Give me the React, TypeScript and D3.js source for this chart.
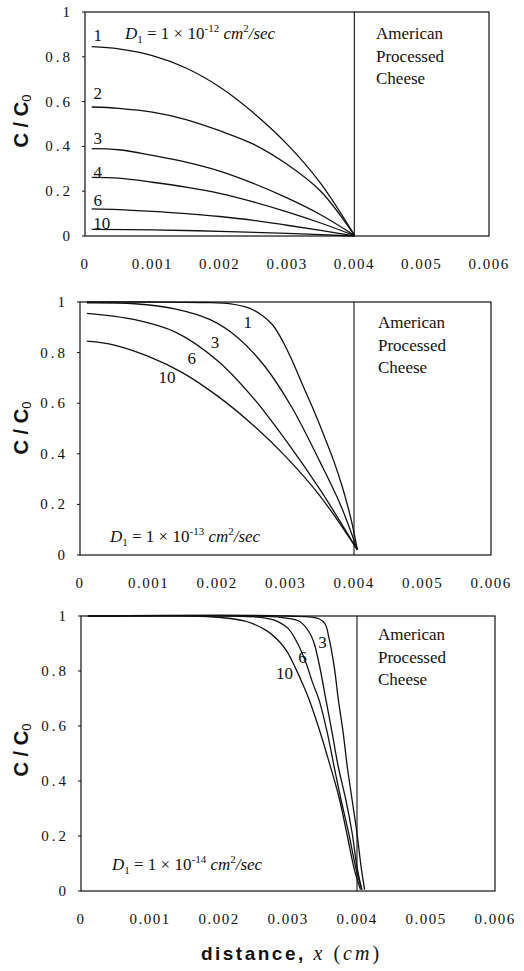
import React, { useEffect, useRef } from "react";
import * as d3 from "d3";

// axis ticks
const xTickValues = [0, 0.001, 0.002, 0.003, 0.004, 0.005, 0.006];
const xTickLabels = ["0", "0.001", "0.002", "0.003", "0.004", "0.005", "0.006"];
const yTickValues = [0, 0.2, 0.4, 0.6, 0.8, 1];
const yTickLabels = ["0", "0.2", "0.4", "0.6", "0.8", "1"];
const cheeseLines = ["American", "Processed", "Cheese"];
const interfaceX = 0.004;

// D1 = 1e-12 (top panel), [x cm, C/C0]
const topNames = ["1", "2", "3", "4", "6", "10"];
const top1 = [[0.0001, 0.845], [0.0005, 0.835], [0.001, 0.805], [0.0015, 0.75], [0.002, 0.665], [0.0025, 0.55], [0.003, 0.41], [0.0035, 0.235], [0.004, 0.005]];
const top2 = [[0.0001, 0.576], [0.0005, 0.57], [0.001, 0.553], [0.0015, 0.52], [0.002, 0.47], [0.0025, 0.41], [0.003, 0.32], [0.0035, 0.2], [0.004, 0.004]];
const top3 = [[0.0001, 0.39], [0.0005, 0.385], [0.001, 0.36], [0.0015, 0.33], [0.002, 0.29], [0.0025, 0.235], [0.003, 0.17], [0.0035, 0.095], [0.004, 0.003]];
const top4 = [[0.0001, 0.262], [0.0005, 0.258], [0.001, 0.24], [0.0015, 0.218], [0.002, 0.19], [0.0025, 0.152], [0.003, 0.108], [0.0035, 0.058], [0.004, 0.002]];
const top6 = [[0.0001, 0.121], [0.0005, 0.118], [0.001, 0.11], [0.0015, 0.1], [0.002, 0.087], [0.0025, 0.07], [0.003, 0.048], [0.0035, 0.025], [0.004, 0.001]];
const top10 = [[0.0001, 0.03], [0.001, 0.027], [0.002, 0.021], [0.003, 0.012], [0.004, 0]];

// D1 = 1e-13 (middle panel)
const midNames = ["1", "3", "6", "10"];
const mid1 = [[0.0001, 1], [0.001, 1], [0.0018, 0.998], [0.0022, 0.993], [0.00247, 0.976], [0.00267, 0.945], [0.00281, 0.91], [0.00296, 0.845], [0.0031, 0.767], [0.00325, 0.672], [0.0034, 0.58], [0.00355, 0.48], [0.0037, 0.375], [0.00383, 0.269], [0.00396, 0.138], [0.00405, 0.02]];
const mid3 = [[0.0001, 0.997], [0.0008, 0.993], [0.0014, 0.972], [0.0019, 0.93], [0.0023, 0.86], [0.0027, 0.745], [0.0031, 0.58], [0.0035, 0.37], [0.0038, 0.2], [0.00405, 0.02]];
const mid6 = [[0.0001, 0.955], [0.0008, 0.93], [0.0014, 0.88], [0.002, 0.77], [0.0025, 0.63], [0.003, 0.455], [0.0035, 0.26], [0.00405, 0.02]];
const mid10 = [[0.0001, 0.845], [0.0005, 0.83], [0.001, 0.785], [0.0015, 0.72], [0.002, 0.63], [0.0025, 0.52], [0.003, 0.39], [0.0035, 0.235], [0.00405, 0.02]];

// D1 = 1e-14 (bottom panel)
const botNames = ["1", "3", "6", "10"];
const bot1 = [[0.0001, 1], [0.003, 1], [0.00345, 0.99], [0.00354, 0.97], [0.00359, 0.925], [0.00367, 0.815], [0.00373, 0.695], [0.0038, 0.575], [0.00386, 0.45], [0.00393, 0.33], [0.004, 0.21], [0.00406, 0.087], [0.00411, 0.005]];
const bot3 = [[0.0001, 1], [0.0025, 1], [0.0029, 0.995], [0.00317, 0.98], [0.00331, 0.94], [0.00338, 0.9], [0.00343, 0.85], [0.00348, 0.79], [0.00355, 0.695], [0.00364, 0.575], [0.00373, 0.45], [0.00384, 0.33], [0.00393, 0.21], [0.004, 0.087], [0.00407, 0.005]];
const bot6 = [[0.0001, 1], [0.0022, 1], [0.0026, 0.995], [0.0028, 0.985], [0.003, 0.955], [0.00314, 0.9], [0.00326, 0.83], [0.00336, 0.755], [0.00345, 0.695], [0.00357, 0.575], [0.00367, 0.45], [0.00377, 0.33], [0.00388, 0.21], [0.00398, 0.087], [0.00407, 0.005]];
const bot10 = [[0.0001, 1], [0.0016, 1], [0.002, 0.995], [0.0024, 0.98], [0.0027, 0.945], [0.0029, 0.9], [0.003, 0.865], [0.0031, 0.815], [0.0032, 0.76], [0.0033, 0.7], [0.00345, 0.59], [0.0036, 0.465], [0.00374, 0.34], [0.00386, 0.2], [0.00396, 0.08], [0.00405, 0.005]];

// layout of the three stacked panels (pixels), label spots in data units
const panels = [
  {
    exp: "-12", series: [top1, top2, top3, top4, top6, top10], names: topNames,
    left: 85, right: 489, top: 12, bottom: 236, titleY: 121,
    dX: 125, dY: 39, cheeseX: 376, cheeseY: 39,
    labels: [["1", 0.00019, 0.897], ["2", 0.00019, 0.638], ["3", 0.00019, 0.4375], ["4", 0.00019, 0.286], ["6", 0.00019, 0.161], ["10", 0.00025, 0.058]],
  },
  {
    exp: "-13", series: [mid1, mid3, mid6, mid10], names: midNames,
    left: 80, right: 491, top: 302, bottom: 555, titleY: 428,
    dX: 110, dY: 542, cheeseX: 378, cheeseY: 328,
    labels: [["1", 0.00245, 0.921], ["3", 0.00197, 0.842], ["6", 0.00163, 0.779], ["10", 0.00127, 0.704]],
  },
  {
    exp: "-14", series: [bot1, bot3, bot6, bot10], names: botNames,
    left: 81, right: 495, top: 616, bottom: 891, titleY: 750,
    dX: 112, dY: 870, cheeseX: 378, cheeseY: 640,
    labels: [["3", 0.0035, 0.905], ["6", 0.00321, 0.851], ["10", 0.00295, 0.793]],
  },
];

const serif = "Liberation Serif, DejaVu Serif, serif";
const sans = "Liberation Sans, Arial, sans-serif";
const ink = "#111";

const drawChart = (node) => {
  const svg = d3.select(node);
  svg.selectAll("*").remove();

  panels.forEach(p => {
    const x = d3.scaleLinear().domain([0, 0.006]).range([p.left, p.right]);
    const y = d3.scaleLinear().domain([0, 1]).range([p.bottom, p.top]);
    const g = svg.append("g");

    // frame
    g.append("rect")
      .attr("x", p.left).attr("y", p.top)
      .attr("width", p.right - p.left).attr("height", p.bottom - p.top)
      .attr("fill", "none").attr("stroke", ink).attr("stroke-width", 1.2);

    // interface line
    g.append("line")
      .attr("x1", x(interfaceX)).attr("x2", x(interfaceX))
      .attr("y1", p.top).attr("y2", p.bottom)
      .attr("stroke", ink).attr("stroke-width", 1.1);

    // y ticks + labels
    yTickValues.forEach((v, i) => {
      g.append("line")
        .attr("x1", p.left - 3).attr("x2", p.left)
        .attr("y1", y(v)).attr("y2", y(v))
        .attr("stroke", ink).attr("stroke-width", 1);
      g.append("text")
        .attr("x", p.left - 12).attr("y", y(v) + 5)
        .attr("text-anchor", "end")
        .style("font-family", serif).attr("font-size", 15)
        .attr("letter-spacing", 3).attr("fill", ink)
        .text(yTickLabels[i]);
    });

    // x tick labels
    xTickValues.forEach((v, i) => {
      g.append("text")
        .attr("x", x(v)).attr("y", p.bottom + 33)
        .attr("text-anchor", "middle")
        .style("font-family", serif).attr("font-size", 15)
        .attr("letter-spacing", 1.5).attr("fill", ink)
        .text(xTickLabels[i]);
    });

    // curves
    const line = d3.line().x(d => x(d[0])).y(d => y(d[1])).curve(d3.curveCatmullRom.alpha(0.5));
    p.series.forEach(s => {
      g.append("path")
        .attr("d", line(s))
        .attr("fill", "none").attr("stroke", ink).attr("stroke-width", 1.3);
    });

    // curve labels
    p.labels.forEach(([t, lx, ly]) => {
      g.append("text")
        .attr("x", x(lx)).attr("y", y(ly) + 6)
        .attr("text-anchor", "middle")
        .style("font-family", serif).attr("font-size", 17).attr("fill", ink)
        .text(t);
    });

    // D1 annotation
    const dt = g.append("text")
      .attr("x", p.dX).attr("y", p.dY)
      .style("font-family", serif).attr("font-size", 17).attr("fill", ink);
    dt.append("tspan").attr("font-style", "italic").text("D");
    dt.append("tspan").attr("dy", 4).attr("font-size", 11).text("1");
    dt.append("tspan").attr("dy", -4).text(" = 1 × 10");
    dt.append("tspan").attr("dy", -7).attr("font-size", 11).text(p.exp);
    dt.append("tspan").attr("dy", 7).attr("font-style", "italic").text(" cm");
    dt.append("tspan").attr("dy", -7).attr("font-size", 11).text("2");
    dt.append("tspan").attr("dy", 7).attr("font-style", "italic").text("/sec");

    // material name
    cheeseLines.forEach((t, i) => {
      g.append("text")
        .attr("x", p.cheeseX).attr("y", p.cheeseY + i * 22.5)
        .style("font-family", serif).attr("font-size", 17).attr("fill", ink)
        .text(t);
    });

    // y title
    const yt = g.append("text")
      .attr("transform", `translate(28,${p.titleY}) rotate(-90)`)
      .attr("text-anchor", "middle")
      .style("font-family", sans).attr("font-weight", "bold")
      .attr("font-size", 20).attr("fill", ink);
    yt.append("tspan").text("C / C");
    yt.append("tspan").attr("dy", 3).attr("font-size", 13).attr("font-weight", "normal").text("0");
  });

  // x title
  const xt = svg.append("text")
    .attr("x", 290).attr("y", 960)
    .attr("text-anchor", "middle").attr("fill", ink);
  xt.append("tspan").style("font-family", sans).attr("font-weight", "bold")
    .attr("font-size", 19).attr("letter-spacing", 2.5).text("distance, ");
  xt.append("tspan").style("font-family", serif).attr("font-style", "italic")
    .attr("font-size", 20).attr("letter-spacing", 3).text("x ");
  xt.append("tspan").style("font-family", serif).attr("font-size", 20).attr("letter-spacing", 3).text("(");
  xt.append("tspan").style("font-family", serif).attr("font-style", "italic")
    .attr("font-size", 20).attr("letter-spacing", 3).text("cm");
  xt.append("tspan").style("font-family", serif).attr("font-size", 20).text(")");
};

export default function App() {
  const ref = useRef(null);

  useEffect(() => {
    drawChart(ref.current);
  }, []);

  return (
    <svg
      ref={ref}
      width={524}
      height={971}
      style={{ position: "absolute", left: 0, top: 0, background: "#fff" }}
    />
  );
}
